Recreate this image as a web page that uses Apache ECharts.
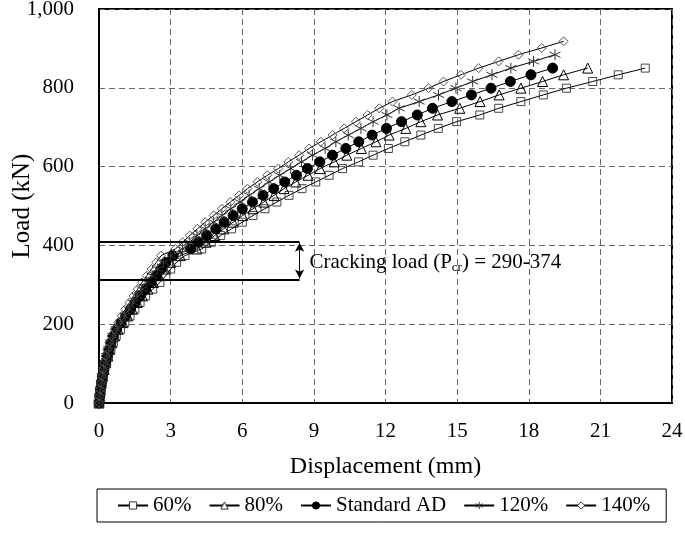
<!DOCTYPE html>
<html><head><meta charset="utf-8">
<script src="https://cdn.jsdelivr.net/npm/echarts@6/dist/echarts.min.js"></script>
<style>html,body{margin:0;padding:0;background:#fff}#c{width:685px;height:533px}</style>
</head><body><div id="c"></div>
<script>
// Load levels (kN) shared by all series: 17 kN steps
const loadLevels = [0,17,34,51,68,85,102,119,136,153,170,187,204,221,238,255,272,289,306,323,340,357,374,391,408,425,442,459,476,493,510,527,544,561,578,595,612,629,646,663,680,697,714,731,748,765,782,799,816,833,850,867,884,901,918];
// Displacement (mm) at each load level
const disp60  = [0,0.03,0.07,0.12,0.17,0.24,0.32,0.4,0.5,0.6,0.72,0.9,1.08,1.3,1.5,1.72,1.95,2.25,2.55,2.8,3.0,3.25,3.6,4.3,4.7,5.1,5.55,6.0,6.45,6.95,7.45,7.96,8.5,9.08,9.64,10.2,10.87,11.48,12.12,12.81,13.48,14.21,14.98,15.95,16.74,17.67,18.61,19.58,20.68,21.75,22.88];
const disp80  = [0,0.03,0.06,0.1,0.15,0.21,0.28,0.36,0.44,0.53,0.65,0.8,1.0,1.2,1.4,1.6,1.82,2.05,2.28,2.5,2.75,3.0,3.4,4.1,4.48,4.85,5.22,5.62,6.02,6.45,6.9,7.33,7.75,8.24,8.76,9.26,9.85,10.38,10.99,11.6,12.15,12.85,13.48,14.18,15.11,15.96,16.76,17.67,18.58,19.46,20.47];
const dispStd = [0,0.03,0.06,0.1,0.14,0.2,0.27,0.34,0.42,0.5,0.6,0.74,0.92,1.12,1.32,1.52,1.72,1.95,2.18,2.4,2.6,2.8,3.1,3.84,4.16,4.51,4.89,5.24,5.62,6.0,6.43,6.87,7.32,7.78,8.27,8.73,9.25,9.78,10.34,10.88,11.44,12.04,12.67,13.33,13.97,14.78,15.6,16.42,17.23,18.09,19.0];
const disp120 = [0,0.03,0.06,0.1,0.14,0.19,0.25,0.32,0.4,0.48,0.58,0.72,0.9,1.08,1.25,1.42,1.6,1.8,2.0,2.22,2.45,2.7,3.0,3.5,3.8,4.1,4.45,4.8,5.15,5.52,5.9,6.29,6.71,7.12,7.57,8.03,8.48,8.94,9.47,9.92,10.44,10.97,11.48,12.06,12.57,13.41,14.22,14.95,15.65,16.46,17.25,18.2,19.1];
const disp140 = [0,0.02,0.05,0.08,0.12,0.17,0.22,0.28,0.35,0.43,0.52,0.65,0.8,0.95,1.1,1.28,1.45,1.62,1.8,2.0,2.2,2.4,2.6,3.2,3.5,3.8,4.12,4.45,4.8,5.15,5.5,5.87,6.22,6.63,7.05,7.51,7.93,8.38,8.8,9.29,9.78,10.27,10.76,11.25,11.74,12.29,13.1,13.8,14.43,15.16,15.9,16.74,17.57,18.54,19.46];
const seriesNames = ['60%','80%','Standard AD','120%','140%'];
const xTicks = {min:0, max:24, interval:3};
const yTicks = {min:0, max:1000, interval:200};
// Cracking load annotation
const crackLines = [409, 314];
const crackEndX = 8.4;
const crackText = 'Cracking load (P';

function pairs(d){ return d.map((x,i)=>[x, loadLevels[i]]); }
const FONT = 'Liberation Serif';
const asterisk = 'path://M0,-1L0,1M-0.866,-0.5L0.866,0.5M-0.866,0.5L0.866,-0.5';
const styles = [
  {symbol:'rect', size:8, fill:'rgba(255,255,255,0)', border:'#444'},
  {symbol:'triangle', size:10, fill:'rgba(255,255,255,0)', border:'#000'},
  {symbol:'circle', size:10, fill:'#000', border:'#000'},
  {symbol:asterisk, size:11, fill:'rgba(255,255,255,0)', border:'#333'},
  {symbol:'diamond', size:9, fill:'rgba(255,255,255,0)', border:'#555'}
];
const dataSets = [disp60, disp80, dispStd, disp120, disp140];
const series = dataSets.map((d,i)=>({
  name: seriesNames[i], type:'line', data: pairs(d),
  symbol: styles[i].symbol, symbolSize: styles[i].size, showAllSymbol:true,
  lineStyle:{color:'#000', width:1},
  itemStyle:{color:styles[i].fill, borderColor:styles[i].border, borderWidth:1},
  animation:false, z: 2
}));
series.push({
  type:'line', data:[], silent:true, animation:false,
  markLine:{
    silent:true, animation:false, symbol:['none','none'],
    label:{show:false},
    lineStyle:{color:'#000', width:2, type:'solid'},
    data:[
      [{coord:[0,crackLines[0]]},{coord:[crackEndX,crackLines[0]]}],
      [{coord:[0,crackLines[1]]},{coord:[crackEndX,crackLines[1]]}]
    ]
  }
});
series.push({
  type:'line', data:[], silent:true, animation:false,
  markLine:{
    silent:true, animation:false, symbol:['arrow','arrow'], symbolSize:[7,9],
    label:{show:false},
    lineStyle:{color:'#000', width:1, type:'solid'},
    data:[[{coord:[crackEndX,crackLines[0]-2]},{coord:[crackEndX,crackLines[1]+2]}]]
  }
});

const legendData = seriesNames.map((n,i)=>({
  name:n,
  itemStyle:{color: i===2 ? '#000' : '#fff', borderColor: i===2 ? '#000' : '#333', borderWidth:1}
}));

const chart = echarts.init(document.getElementById('c'), null, {renderer:'canvas'});
chart.setOption({
  backgroundColor:'#fff',
  animation:false,
  textStyle:{fontFamily:FONT, color:'#000'},
  grid:{left:99, right:13, top:9, bottom:130, show:true, borderColor:'#000', borderWidth:2,
    backgroundColor:'transparent', containLabel:false, outerBoundsMode:'none'},
  xAxis:{
    type:'value', min:xTicks.min, max:xTicks.max, interval:xTicks.interval,
    name:'Displacement (mm)', nameLocation:'middle', nameGap:52, nameMoveOverlap:false,
    nameTextStyle:{fontFamily:FONT, fontSize:24, color:'#000'},
    axisLine:{show:true, lineStyle:{color:'#000', width:2}},
    axisTick:{show:false},
    axisLabel:{fontFamily:FONT, fontSize:21, color:'#000', margin:18},
    splitLine:{show:true, lineStyle:{color:'#666', type:[6,4], width:1}}
  },
  yAxis:{
    type:'value', min:yTicks.min, max:yTicks.max, interval:yTicks.interval,
    name:'Load (kN)', nameLocation:'middle', nameGap:64, nameMoveOverlap:false,
    nameTextStyle:{fontFamily:FONT, fontSize:25, color:'#000'},
    axisLine:{show:true, lineStyle:{color:'#000', width:2}},
    axisTick:{show:false},
    axisLabel:{fontFamily:FONT, fontSize:21, color:'#000', margin:25,
      formatter:v=>v.toLocaleString('en-US')},
    splitLine:{show:true, lineStyle:{color:'#666', type:[6,4], width:1}}
  },
  legend:{
    data:legendData, bottom:11, left:97,
    orient:'horizontal', padding:[6,16,6,20],
    borderColor:'#000', borderWidth:1,
    itemWidth:30, itemHeight:9, itemGap:17,
    textStyle:{fontFamily:FONT, fontSize:21, color:'#000'}
  },
  series: series
});

const p = chart.convertToPixel({gridIndex:0}, [crackEndX, (crackLines[0]+crackLines[1])/2]);
chart.setOption({
  graphic:[{
    type:'text', x:p[0]+10, y:p[1]+2, silent:true,
    style:{
      text:'{a|'+crackText+'}{s|cr}{a|) = 290-374}',
      verticalAlign:'middle', align:'left',
      rich:{
        a:{fontFamily:FONT, fontSize:21, fill:'#000'},
        s:{fontFamily:FONT, fontSize:13, fill:'#000', padding:[11,0,0,0]}
      }
    }
  }]
});
</script>
</body></html>
